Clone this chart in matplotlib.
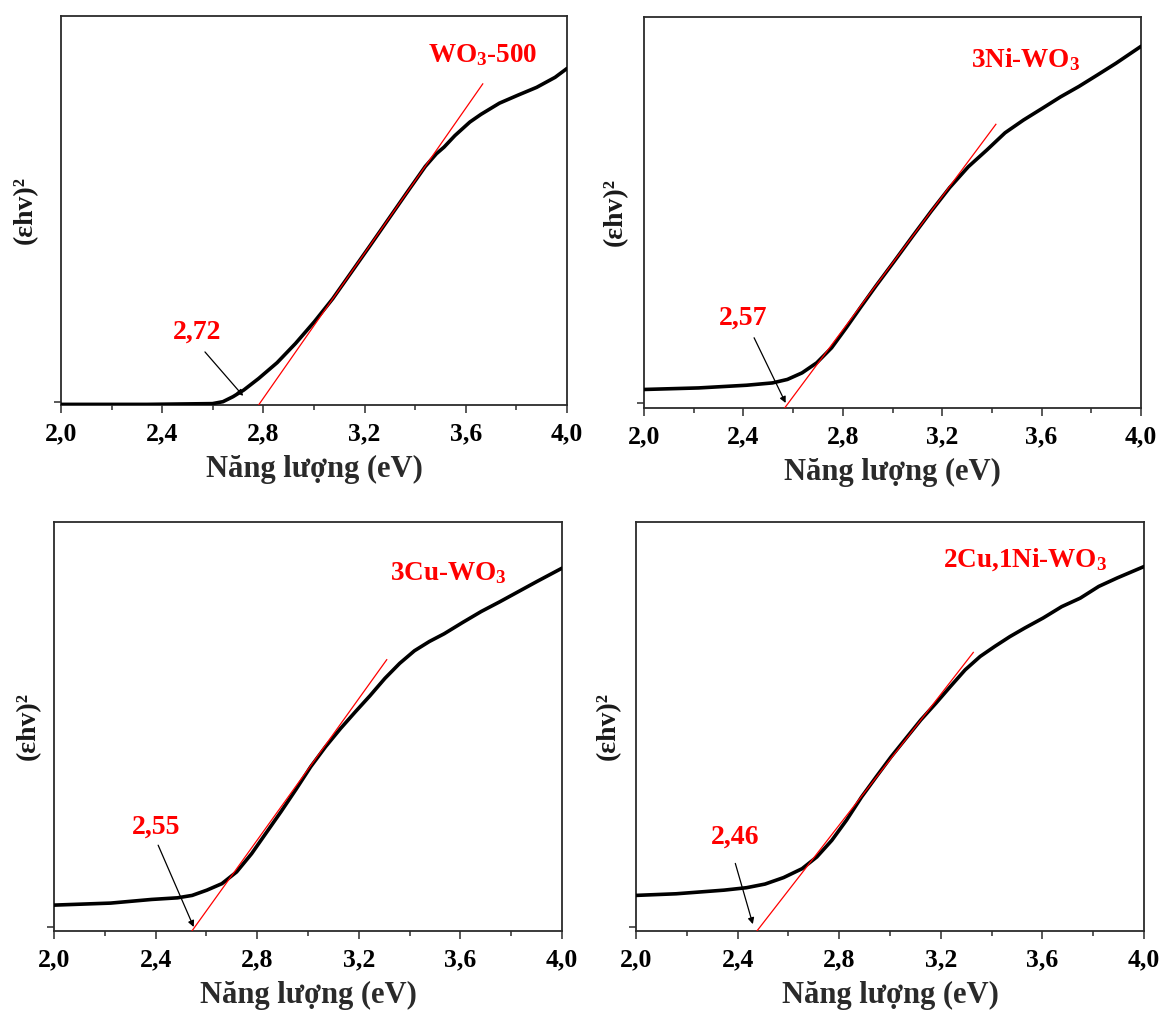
import matplotlib
matplotlib.use("Agg")
import matplotlib.pyplot as plt
from matplotlib.ticker import MultipleLocator, FixedLocator, NullFormatter

plt.rcParams["font.family"] = ["Liberation Serif", "DejaVu Serif"]
plt.rcParams["mathtext.fontset"] = "custom"
plt.rcParams["mathtext.rm"] = "Liberation Serif:bold"
plt.rcParams["mathtext.bf"] = "Liberation Serif:bold"
plt.rcParams["mathtext.it"] = "Liberation Serif:bold:italic"

# ---- Tauc-plot data: photon energy (eV) vs (εhν)^2 (normalised) ----
energy_wo3 = [2.000, 2.341, 2.599, 2.640, 2.680, 2.722, 2.781, 2.854, 2.927, 3.001,
              3.074, 3.147, 3.221, 3.294, 3.367, 3.440, 3.484, 3.514, 3.557, 3.616,
              3.660, 3.733, 3.807, 3.880, 3.953, 4.000]
signal_wo3 = [-0.007, -0.007, -0.005, 0.000, 0.013, 0.030, 0.060, 0.101, 0.151, 0.207,
              0.267, 0.335, 0.404, 0.473, 0.542, 0.610, 0.643, 0.660, 0.690, 0.725,
              0.745, 0.774, 0.795, 0.815, 0.841, 0.864]

energy_ni = [2.000, 2.220, 2.413, 2.517, 2.577, 2.636, 2.695, 2.755, 2.814, 2.874,
             2.933, 3.007, 3.082, 3.156, 3.230, 3.305, 3.379, 3.453, 3.527, 3.602,
             3.676, 3.750, 3.825, 3.899, 4.000]
signal_ni = [0.035, 0.039, 0.046, 0.052, 0.061, 0.078, 0.104, 0.143, 0.195, 0.250,
             0.303, 0.367, 0.433, 0.497, 0.558, 0.612, 0.655, 0.700, 0.733, 0.763,
             0.793, 0.820, 0.850, 0.880, 0.924]

energy_cu = [2.000, 2.223, 2.384, 2.486, 2.544, 2.602, 2.661, 2.719, 2.778, 2.836,
             2.894, 2.953, 3.011, 3.069, 3.128, 3.186, 3.244, 3.303, 3.361, 3.419,
             3.478, 3.536, 3.609, 3.682, 3.755, 3.828, 3.901, 4.000]
signal_cu = [0.054, 0.059, 0.068, 0.072, 0.078, 0.091, 0.107, 0.136, 0.181, 0.233,
             0.285, 0.340, 0.396, 0.445, 0.490, 0.531, 0.571, 0.614, 0.651, 0.682,
             0.705, 0.724, 0.752, 0.779, 0.803, 0.828, 0.853, 0.886]

energy_cuni = [2.000, 2.158, 2.347, 2.435, 2.508, 2.581, 2.654, 2.712, 2.771, 2.829,
               2.888, 2.946, 3.004, 3.063, 3.121, 3.180, 3.238, 3.296, 3.355, 3.413,
               3.472, 3.530, 3.603, 3.676, 3.749, 3.822, 3.895, 4.000]
signal_cuni = [0.078, 0.082, 0.091, 0.097, 0.106, 0.122, 0.144, 0.173, 0.214, 0.264,
               0.321, 0.371, 0.420, 0.466, 0.511, 0.552, 0.594, 0.635, 0.668, 0.693,
               0.717, 0.738, 0.763, 0.791, 0.812, 0.841, 0.862, 0.890]

# Linear fits of the absorption edge (end points)
fit_x_wo3, fit_y_wo3 = [2.781, 3.667], [-0.0086, 0.824]
fit_x_ni, fit_y_ni = [2.566, 3.416], [-0.013, 0.722]
fit_x_cu, fit_y_cu = [2.543, 3.310], [-0.0099, 0.660]
fit_x_cuni, fit_y_cuni = [2.476, 3.328], [-0.0099, 0.678]

# Band-gap values (eV) and sample names
band_gaps = [2.72, 2.57, 2.55, 2.46]
sample_names = [r"WO$_\mathregular{3}$-500", r"3Ni-WO$_\mathregular{3}$",
                r"3Cu-WO$_\mathregular{3}$", r"2Cu,1Ni-WO$_\mathregular{3}$"]

x_ticks = [2.0, 2.4, 2.8, 3.2, 3.6, 4.0]
x_tick_labels = ["2,0", "2,4", "2,8", "3,2", "3,6", "4,0"]
x_label = "Năng lượng (eV)"
y_label = "(εhv)²"

W, H = 1160, 1019
fig = plt.figure(figsize=(W / 100, H / 100), dpi=100)

panels = [
    dict(rect=(61, 16, 567, 405), x=energy_wo3, y=signal_wo3, fx=fit_x_wo3, fy=fit_y_wo3,
         ylo=-0.0086, gap_xy=(2.54, 0.18), tail=(2.569, 0.129), tip_y=0.015,
         name_xy=(3.667, 0.899), ylab_dx=36),
    dict(rect=(644, 17, 1141, 408), x=energy_ni, y=signal_ni, fx=fit_x_ni, fy=fit_y_ni,
         ylo=-0.013, gap_xy=(2.398, 0.221), tail=(2.443, 0.169), tip_y=0.0,
         name_xy=(3.535, 0.889), ylab_dx=29),
    dict(rect=(54, 522, 562, 931), x=energy_cu, y=signal_cu, fx=fit_x_cu, fy=fit_y_cu,
         ylo=-0.0099, gap_xy=(2.401, 0.247), tail=(2.41, 0.202), tip_y=0.0,
         name_xy=(3.551, 0.874), ylab_dx=26),
    dict(rect=(636, 522, 1144, 931), x=energy_cuni, y=signal_cuni, fx=fit_x_cuni, fy=fit_y_cuni,
         ylo=-0.0099, gap_xy=(2.391, 0.223), tail=(2.391, 0.157), tip_y=0.007,
         name_xy=(3.530, 0.907), ylab_dx=28),
]

spine_col = "#2b2b2b"
for p, gap, name in zip(panels, band_gaps, sample_names):
    x0, y0, x1, y1 = p["rect"]
    ax = fig.add_axes([x0 / W, 1 - y1 / H, (x1 - x0) / W, (y1 - y0) / H])
    ax.plot(p["x"], p["y"], color="black", lw=2.6, solid_capstyle="round",
            solid_joinstyle="round", zorder=3)
    ax.plot(p["fx"], p["fy"], color="red", lw=0.9, zorder=4)

    ax.set_xlim(2.0, 4.0)
    ax.set_ylim(p["ylo"], 1.0)
    ax.xaxis.set_major_locator(FixedLocator(x_ticks))
    ax.set_xticklabels(x_tick_labels)
    ax.xaxis.set_minor_locator(MultipleLocator(0.2))
    ax.set_yticks([0.0])
    ax.yaxis.set_major_formatter(NullFormatter())
    ax.tick_params(axis="x", which="major", direction="out", length=6, width=1.1,
                   color=spine_col, labelsize=18.5, pad=6.5)
    ax.tick_params(axis="x", which="minor", direction="out", length=3.5, width=1.1,
                   color=spine_col)
    ax.tick_params(axis="y", direction="out", length=5, width=1.1, color=spine_col)
    for lab in ax.get_xticklabels():
        lab.set_fontweight("bold")
    for s in ax.spines.values():
        s.set_color(spine_col)
        s.set_linewidth(1.3)

    ax.set_xlabel(x_label, fontsize=22, fontweight="bold", color="#2a2a2a")
    ax.xaxis.set_label_coords(0.5, -64 / (y1 - y0))
    ax.xaxis.label.set_va("center")
    ax.set_ylabel(y_label, fontsize=20, fontweight="bold", color="#1a1a1a")
    ax.yaxis.set_label_coords(-p["ylab_dx"] / (x1 - x0), 0.5)
    ax.yaxis.label.set_va("center")

    ax.text(p["name_xy"][0], p["name_xy"][1], name, color="red", fontsize=19.5,
            fontweight="bold", ha="center", va="center", zorder=5)
    ax.text(p["gap_xy"][0], p["gap_xy"][1], f"{gap:.2f}".replace(".", ","), color="red",
            fontsize=20, fontweight="bold", ha="center", va="center", zorder=5)
    ax.annotate("", xy=(gap, p["tip_y"]), xytext=p["tail"],
                arrowprops=dict(arrowstyle="-|>", color="black", lw=0.9,
                                mutation_scale=9, shrinkA=0, shrinkB=0), zorder=5)

fig.savefig("out.png", dpi=100)
